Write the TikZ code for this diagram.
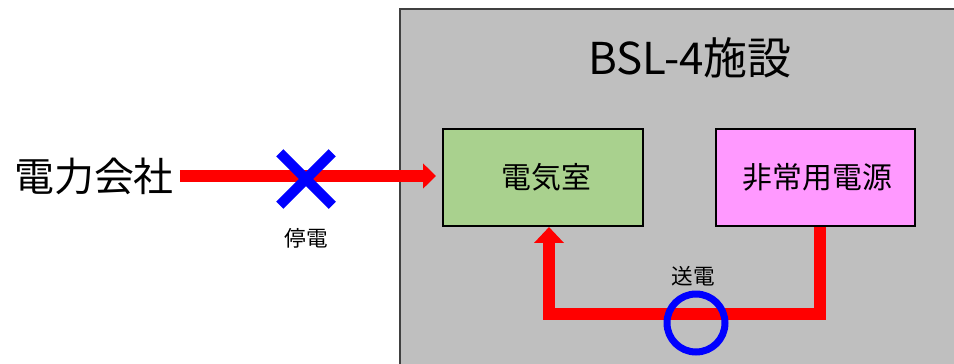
\documentclass[tikz,border=0pt]{standalone}
\usepackage{fontspec}
\setmainfont{Noto Sans CJK JP}
\usetikzlibrary{arrows.meta, positioning, shapes.misc, calc}

\definecolor{shisetsu}{HTML}{BFBFBF}
\definecolor{shisetsuline}{HTML}{404040}
\definecolor{denkishitsu}{HTML}{A9D18E}
\definecolor{hijo}{HTML}{FF99FF}

\tikzset{
  bigtext/.style={font=\fontsize{22.7pt}{27pt}\selectfont},
  titletext/.style={font=\fontsize{25pt}{30pt}\selectfont},
  boxtext/.style={font=\fontsize{17pt}{20pt}\selectfont},
  smalltext/.style={font=\fontsize{12.3pt}{15pt}\selectfont},
  room/.style={draw=black, line width=0.04cm, rectangle, minimum width=4cm, minimum height=1.94cm, boxtext},
  feed/.style={draw=red, line width=0.25cm, line join=miter},
}

\begin{document}
\begin{tikzpicture}[x=0.02cm, y={(0cm,-0.02cm)}]
        \useasboundingbox (0,0) rectangle (954,363);
        \clip (0,0) rectangle (954,363);

        % BSL-4施設
        \draw[fill=shisetsu, draw=shisetsuline, line width=0.05cm] (400,9) rectangle (980,390);
        \node[titletext] (title) at (690,58) {BSL-4施設};

        % 施設の中
        \node[room, fill=denkishitsu] (denki) at (543,177.5) {\hspace{0.14cm}電気室};
        \node[room, fill=hijo] (hijo) at (815.5,177.5) {\hspace{0.07cm}非常用電源};

        % 電力会社から
        \node[bigtext] (company) at (94,176) {電力会社};
        \draw[feed, -{Triangle[length=0.26cm, width=0.49cm]}, shorten >=0.12cm]
            (company.east) -- (company.east -| denki.west);
        \node[cross out, draw=blue, line width=0.2cm, minimum size=1.05cm, inner sep=0pt, outer sep=0pt] (cut) at (306,179) {};
        \node[smalltext] (teiden) at (306,238) {停電};

        % 非常用電源から送電
        \coordinate (loop) at (700,314);
        \draw[feed, -{Triangle[length=0.32cm, width=0.58cm]}]
            ($(hijo.south)+(4.5,0)$) |- (loop) -| ($(denki.south)+(6,0)$);
        \node[circle, draw=blue, line width=0.14cm, minimum size=1.16cm, inner sep=0pt] (ring) at (696,323) {};
        \node[smalltext] (soden) at (693,276) {送電};
\end{tikzpicture}
\end{document}
